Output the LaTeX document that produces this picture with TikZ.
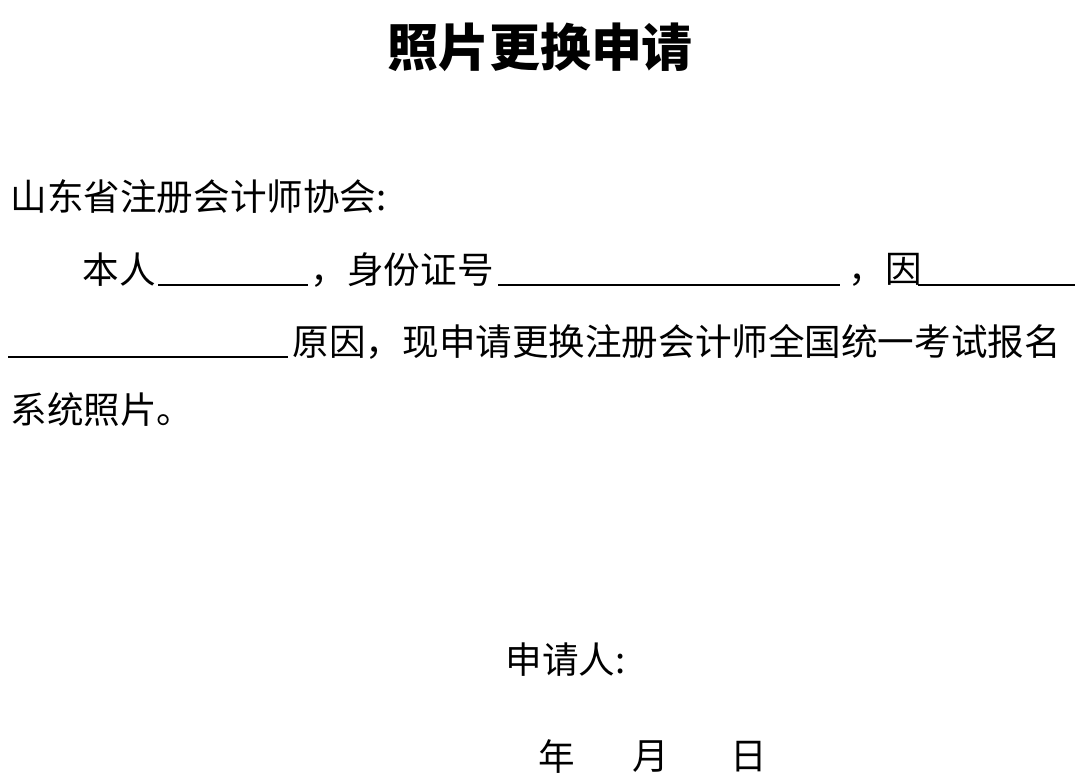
\documentclass[tikz,border=0pt]{standalone}
\usepackage{fontspec}
\setmainfont{Noto Sans CJK SC}
\usetikzlibrary{positioning}
\begin{document}
\begin{tikzpicture}[x=0.01cm,y=-0.01cm,
    txt/.style={anchor=west, inner sep=0pt, font=\fontsize{10.4pt}{12pt}\selectfont\addfontfeatures{Weight=Light}},
    blank/.style={line width=0.5pt}]
  \useasboundingbox (0,0) rectangle (1080,781);
  \node[font=\fontsize{14.5pt}{16pt}\selectfont\bfseries, inner sep=0pt] (title) at (540,47) {照片更换申请};
  \node[txt] (to) at (10,197) {山东省注册会计师协会:};
  \node[txt] (me) at (82,270) {本人};
  \node[txt] (id) at (310,270) {，身份证号};
  \node[txt] (why) at (848,270) {，因};
  \draw[blank] (158,285) -- (308,285);
  \draw[blank] (498,285) -- (840,285);
  \draw[blank] (918,285) -- (1075,285);
  \draw[blank] (8,357) -- (288,357);
  \node[txt] (reason) at (292,342) {原因，现申请更换注册会计师全国统一考试报名};
  \node[txt] (sys) at (10,410) {系统照片。};
  \node[txt] (sign) at (505,660) {申请人:};
  \node[txt] (yr) at (538,757) {年};
  \node[txt] (mo) at (632,757) {月};
  \node[txt] (dy) at (730,757) {日};
\end{tikzpicture}
\end{document}
